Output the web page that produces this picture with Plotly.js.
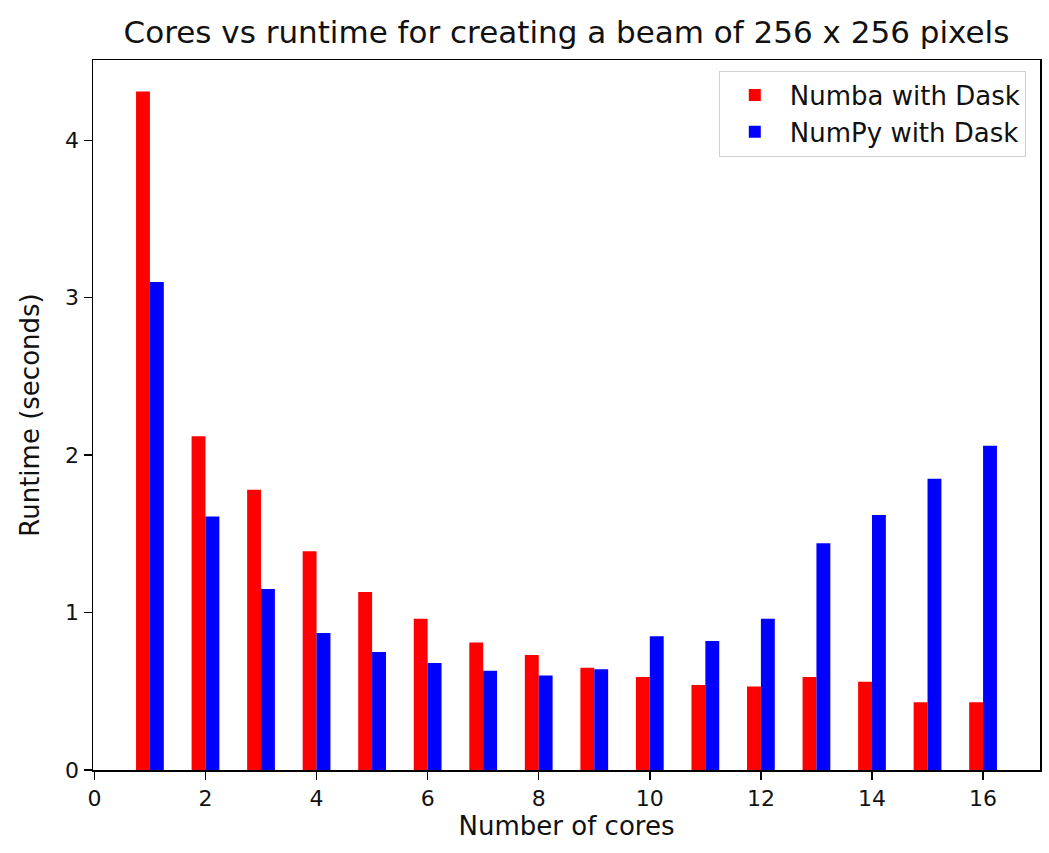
<!DOCTYPE html>
<html>
<head>
<meta charset="utf-8">
<script src="https://cdn.plot.ly/plotly-3.0.1.min.js"></script>
<style>html,body{margin:0;padding:0;background:#fff;}#chart{width:1049px;height:853px;}</style>
</head>
<body>
<div id="chart"></div>
<script>
const cores = [1,2,3,4,5,6,7,8,9,10,11,12,13,14,15,16];
const numbaDask = [4.31,2.12,1.78,1.39,1.13,0.96,0.81,0.73,0.65,0.59,0.54,0.53,0.59,0.56,0.43,0.43];
const numpyDask = [3.10,1.61,1.15,0.87,0.75,0.68,0.63,0.60,0.64,0.85,0.82,0.96,1.44,1.62,1.85,2.06];
const xTicks = [0,2,4,6,8,10,12,14,16];
const yTicks = [0,1,2,3,4];

const font = {family: 'DejaVu Sans, sans-serif', color: '#111'};

const traces = [
  {type:'bar', name:'Numba with Dask', x:cores, y:numbaDask, width:0.25, offset:-0.25,
   marker:{color:'#ff0000', line:{width:0}}},
  {type:'bar', name:'NumPy with Dask', x:cores, y:numpyDask, width:0.25, offset:0,
   marker:{color:'#0000ff', line:{width:0}}}
];

const layout = {
  width:1049, height:853,
  margin:{l:93, r:9, t:60, b:83},
  paper_bgcolor:'#fff', plot_bgcolor:'#fff',
  barmode:'overlay',
  font:Object.assign({size:22}, font),
  title:{text:'Cores vs runtime for creating a beam of 256 x 256 pixels',
         font:Object.assign({size:31}, font), x:0.54, xanchor:'center', xref:'container', y:0.962, yanchor:'middle'},
  xaxis:{range:[-0.025,17.025], tickvals:xTicks, ticktext:xTicks.map(String),
         showgrid:false, zeroline:false, showline:true, mirror:true, linecolor:'#000', linewidth:1.5,
         ticks:'outside', ticklen:8, tickwidth:1.5, tickcolor:'#000',
         tickfont:Object.assign({size:22}, font),
         title:{text:'Number of cores', font:Object.assign({size:26}, font), standoff:4}},
  yaxis:{range:[0,4.51], tickvals:yTicks, ticktext:yTicks.map(String),
         showgrid:false, zeroline:false, showline:true, mirror:true, linecolor:'#000', linewidth:1.5,
         ticks:'outside', ticklen:8, tickwidth:1.5, tickcolor:'#000',
         tickfont:Object.assign({size:22}, font),
         title:{text:'Runtime (seconds)', font:Object.assign({size:26}, font), standoff:18}},
  legend:{x:0.985, xanchor:'right', y:0.985, yanchor:'top', bgcolor:'rgba(255,255,255,0.8)',
          bordercolor:'#d0d0d0', borderwidth:1, font:Object.assign({size:26}, font),
          traceorder:'normal', itemwidth:60, tracegroupgap:4}
};

Plotly.newPlot('chart', traces, layout, {displayModeBar:false, staticPlot:true});
</script>
</body>
</html>
